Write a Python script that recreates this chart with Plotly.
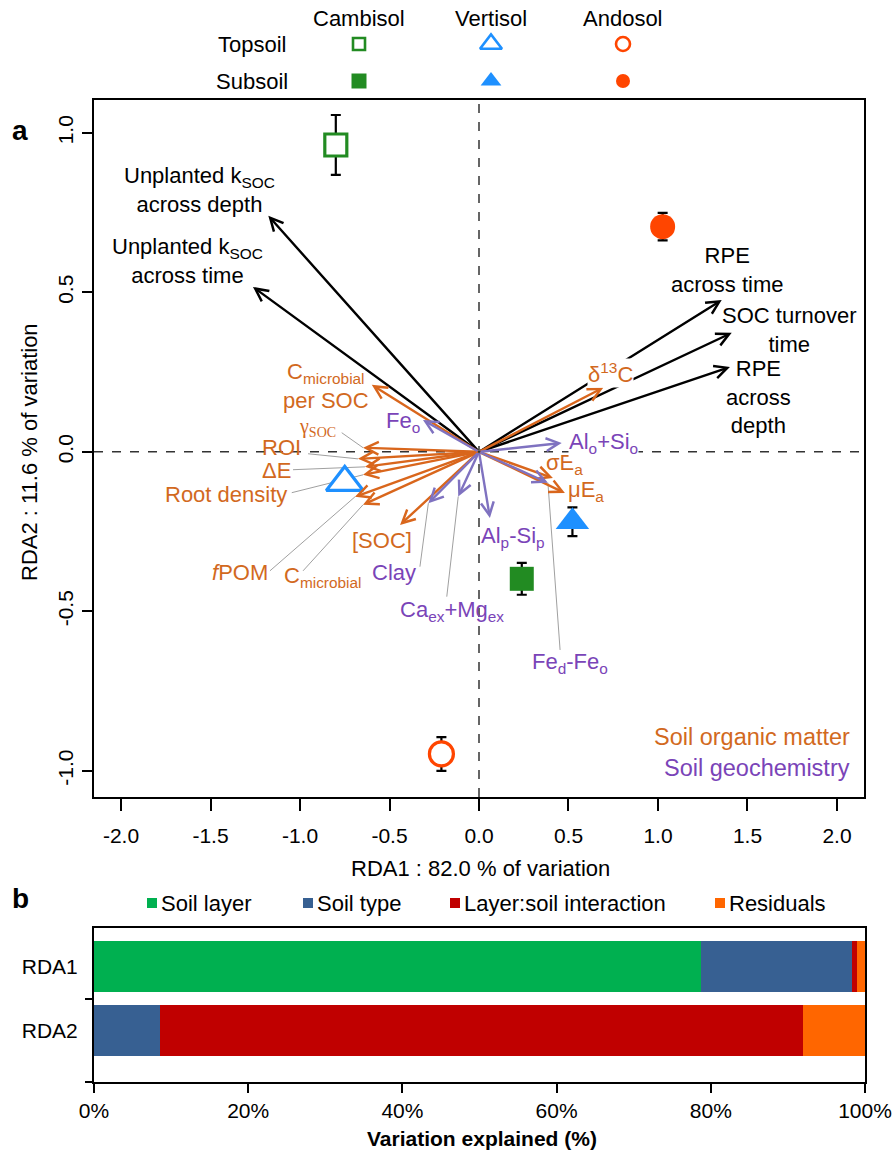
import plotly.graph_objects as go

# ------------------------------------------------------------------
# DATA
# ------------------------------------------------------------------
# site scores (mean +/- se) per soil type
soil_types = ["Cambisol", "Vertisol", "Andosol"]
top_rda1 = [-0.80, -0.75, -0.21]
top_rda2 = [0.962, -0.096, -0.947]
top_err = [0.094, 0.02, 0.053]
sub_rda1 = [0.239, 0.522, 1.026]
sub_rda2 = [-0.398, -0.219, 0.706]
sub_err = [0.05, 0.045, 0.043]

# response variables (black arrows)
resp_names = ["Unplanted k<sub>SOC</sub><br>across depth",
              "Unplanted k<sub>SOC</sub><br>across time",
              "RPE<br>across time",
              "SOC turnover<br>time",
              "RPE<br>across<br>depth"]
resp_rda1 = [-1.177, -1.263, 1.356, 1.412, 1.402]
resp_rda2 = [0.740, 0.517, 0.476, 0.373, 0.266]

# soil organic matter variables (orange arrows)
som_names = ["δ<sup>13</sup>C", "σE<sub>a</sub>", "μE<sub>a</sub>",
             "C<sub>microbial</sub><br>per SOC", "γ<sub>SOC</sub>", "ROI", "ΔE",
             "Root density", "<i>f</i>POM", "C<sub>microbial</sub>", "[SOC]"]
som_rda1 = [0.694, 0.413, 0.480, -0.599, -0.648, -0.676, -0.637, -0.648, -0.693, -0.648, -0.441]
som_rda2 = [0.201, -0.082, -0.129, 0.210, 0.013, -0.022, -0.047, -0.072, -0.141, -0.166, -0.229]

# soil geochemistry variables (purple arrows)
geo_names = ["Fe<sub>o</sub>", "Al<sub>o</sub>+Si<sub>o</sub>", "Fe<sub>d</sub>-Fe<sub>o</sub>",
             "Al<sub>p</sub>-Si<sub>p</sub>", "Ca<sub>ex</sub>+Mg<sub>ex</sub>", "Clay"]
geo_rda1 = [-0.313, 0.462, 0.385, 0.061, -0.116, -0.283]
geo_rda2 = [0.100, 0.028, -0.097, -0.207, -0.140, -0.161]

# variation partitioning (panel b)
rda_axes = ["RDA1", "RDA2"]
comp_names = ["Soil layer", "Soil type", "Layer:soil interaction", "Residuals"]
soil_layer = [78.7, 0.0]
soil_type = [19.6, 8.6]
interaction = [0.6, 83.3]
residuals = [1.1, 8.1]

x_ticks_a = [-2.0, -1.5, -1.0, -0.5, 0.0, 0.5, 1.0, 1.5, 2.0]
y_ticks_a = [-1.0, -0.5, 0.0, 0.5, 1.0]
x_ticks_b = [0, 20, 40, 60, 80, 100]

# ------------------------------------------------------------------
# STYLE / LAYOUT
# ------------------------------------------------------------------
W, H = 895, 1151
FONT = "Liberation Sans, Arial, sans-serif"
FS = 22
SOIL_COLORS = ["#228B22", "#1E90FF", "#FF4500"]
ORANGE = "#D9661C"
ORANGE_TXT = "#D2691E"
PURPLE_ARR = "#7F72C0"
PURPLE_TXT = "#7A44B8"
COMP_COLORS = ["#00B050", "#376092", "#C00000", "#FF6600"]

# label positions (data units) and anchors
resp_lab = [(-1.559, 0.821, "center"), (-1.631, 0.599, "center"), (1.385, 0.571, "center"),
            (1.737, 0.382, "center"), (1.559, 0.172, "center")]
som_lab = [(0.732, 0.248, "center"), (0.480, -0.037, "center"), (0.598, -0.124, "center"),
           (-0.855, 0.207, "center"), (-0.905, 0.075, "center"), (-1.101, 0.013, "center"),
           (-1.134, -0.060, "center"), (-1.413, -0.135, "center"), (-1.335, -0.379, "center"),
           (-0.872, -0.392, "center"), (-0.542, -0.279, "center")]
geo_lab = [(-0.425, 0.094, "center"), (0.497, 0.028, "left"), (0.508, -0.661, "center"),
           (0.190, -0.266, "center"), (-0.151, -0.498, "center"), (-0.475, -0.379, "center")]
# leader lines: label-side start point, keyed by (group, index)
leaders = {("som", 4): (-0.767, 0.060), ("som", 5): (-0.955, -0.006), ("som", 6): (-1.039, -0.056),
           ("som", 7): (-1.046, -0.128), ("som", 8): (-1.168, -0.373), ("som", 9): (-0.983, -0.373),
           ("geo", 5): (-0.330, -0.360), ("geo", 4): (-0.180, -0.454), ("geo", 2): (0.453, -0.621)}

def py(px):
    return 1 - px / H

fig = go.Figure()

# ---- arrows ----
def arrow(x, y, color):
    fig.add_annotation(x=x, y=y, ax=0, ay=0, xref="x", yref="y", axref="x", ayref="y",
                       text="", showarrow=True, arrowhead=5, arrowsize=1.05, arrowwidth=2.4,
                       arrowcolor=color, standoff=0, startstandoff=0)

for x, y in zip(resp_rda1, resp_rda2):
    arrow(x, y, "black")
for x, y in zip(som_rda1, som_rda2):
    arrow(x, y, ORANGE)
for x, y in zip(geo_rda1, geo_rda2):
    arrow(x, y, PURPLE_ARR)

# ---- leader lines ----
for (grp, i), (lx, ly) in leaders.items():
    tx, ty = (som_rda1[i], som_rda2[i]) if grp == "som" else (geo_rda1[i], geo_rda2[i])
    fig.add_shape(type="line", x0=lx, y0=ly, x1=tx, y1=ty, xref="x", yref="y",
                  line=dict(color="#A0A0A0", width=1), layer="below")

# ---- dashed zero lines ----
fig.add_shape(type="line", x0=0, x1=0, y0=0, y1=1, xref="x", yref="y domain",
              line=dict(color="#333", width=1.5, dash="dash"), layer="below")
fig.add_shape(type="line", x0=0, x1=1, y0=0, y1=0, xref="x domain", yref="y",
              line=dict(color="#333", width=1.5, dash="dash"), layer="below")

# ---- labels ----
def label(text, pos, color, size=FS, bg=None, family=FONT):
    x, y, anchor = pos
    fig.add_annotation(x=x, y=y, xref="x", yref="y", text=text, showarrow=False,
                       xanchor=anchor, yanchor="middle", align="center",
                       font=dict(family=family, size=size, color=color),
                       bgcolor=bg, borderpad=0)

for n, p in zip(resp_names, resp_lab):
    label(n, p, "black")
for i, (n, p) in enumerate(zip(som_names, som_lab)):
    if i == 4:
        label(n, p, ORANGE_TXT, size=20, family="Liberation Serif, Times New Roman, serif")
    else:
        label(n, p, ORANGE_TXT, bg="white" if i == 0 else None)
for i, (n, p) in enumerate(zip(geo_names, geo_lab)):
    label(n, p, PURPLE_TXT, bg="white" if i == 1 else None)

fig.add_annotation(x=2.084, y=-0.893, xref="x", yref="y", text="Soil organic matter", showarrow=False,
                   xanchor="right", yanchor="middle", font=dict(family=FONT, size=23.5, color=ORANGE_TXT))
fig.add_annotation(x=2.084, y=-0.991, xref="x", yref="y", text="Soil geochemistry", showarrow=False,
                   xanchor="right", yanchor="middle", font=dict(family=FONT, size=23.5, color=PURPLE_TXT))

# ---- site points ----
fig.add_trace(go.Scatter(
    x=top_rda1, y=top_rda2, mode="markers", xaxis="x", yaxis="y", showlegend=False,
    error_y=dict(type="data", array=top_err, color="black", thickness=2.2, width=5),
    marker=dict(symbol=["square", "triangle-up", "circle"], size=[22, 32, 24], color="white", opacity=1,
                line=dict(color=SOIL_COLORS, width=3.2))))
fig.add_trace(go.Scatter(
    x=sub_rda1, y=sub_rda2, mode="markers", xaxis="x", yaxis="y", showlegend=False,
    error_y=dict(type="data", array=sub_err, color="black", thickness=2.2, width=5),
    marker=dict(symbol=["square", "triangle-up", "circle"], size=[24, 29, 25], color=SOIL_COLORS, opacity=1,
                line=dict(width=0))))

# ---- top legend (grid) ----
leg_x = [359, 491, 623]
fig.add_trace(go.Scatter(x=leg_x, y=[44, 44, 44], mode="markers", xaxis="x3", yaxis="y3", showlegend=False,
                         marker=dict(symbol=["square", "triangle-up", "circle"], size=[12, 19, 14], opacity=1,
                                     color="white", line=dict(color=SOIL_COLORS, width=2.6))))
fig.add_trace(go.Scatter(x=leg_x, y=[81, 81, 81], mode="markers", xaxis="x3", yaxis="y3", showlegend=False,
                         marker=dict(symbol=["square", "triangle-up", "circle"], size=[15, 18, 14], opacity=1,
                                     color=SOIL_COLORS, line=dict(width=0))))
for st, lx in zip(soil_types, leg_x):
    fig.add_annotation(x=lx, y=18, xref="x3", yref="y3", text=st, showarrow=False,
                       xanchor="center", yanchor="middle", font=dict(family=FONT, size=FS, color="black"))
for t, ly in zip(["Topsoil", "Subsoil"], [44, 81]):
    fig.add_annotation(x=252, y=ly, xref="x3", yref="y3", text=t, showarrow=False,
                       xanchor="center", yanchor="middle", font=dict(family=FONT, size=FS, color="black"))

# ---- panel b bars ----
for name, vals, col in zip(comp_names, [soil_layer, soil_type, interaction, residuals], COMP_COLORS):
    fig.add_trace(go.Bar(y=[0, 1], x=vals, orientation="h", name=name, xaxis="x2", yaxis="y2",
                         marker=dict(color=col, line=dict(width=0)), width=0.8, showlegend=False))

# panel b legend
leg_b_x = [152, 308, 455, 720]
fig.add_trace(go.Scatter(x=leg_b_x, y=[903] * 4, mode="markers", xaxis="x4", yaxis="y4", showlegend=False,
                         marker=dict(symbol="square", size=10, color=COMP_COLORS, opacity=1)))
for name, lx in zip(comp_names, leg_b_x):
    fig.add_annotation(x=lx + 7, y=903, xref="x4", yref="y4", text=name, showarrow=False,
                       xanchor="left", yanchor="middle", font=dict(family=FONT, size=FS, color="black"))

# ---- axis titles and panel letters ----
def paper_text(x, y, text, size, angle=0):
    fig.add_annotation(x=x / W, y=py(y), xref="paper", yref="paper", showarrow=False, textangle=angle,
                       xanchor="center", yanchor="middle", text=text,
                       font=dict(family=FONT, size=size, color="black"))

paper_text(480, 868, "RDA1 : 82.0 % of variation", 22)
paper_text(30, 452, "RDA2 : 11.6 % of variation", 22, angle=-90)
paper_text(482, 1138, "<b>Variation explained (%)</b>", 21)
paper_text(20, 130, "<b>a</b>", 28)
paper_text(20, 898, "<b>b</b>", 28)

def fmt(v):
    return f"{v:.1f}"

common = dict(showgrid=False, zeroline=False, automargin=False, showline=True, linewidth=2,
              linecolor="black", mirror=True, tickcolor="black", tickwidth=1.5, tickfont=dict(size=21))

fig.update_layout(
    template="none",
    width=W, height=H, margin=dict(l=0, r=0, t=0, b=0, pad=0, autoexpand=False),
    paper_bgcolor="white", plot_bgcolor="white", barmode="stack", showlegend=False,
    font=dict(family=FONT, size=FS, color="black"),
    xaxis=dict(domain=[94 / W, 864 / W], range=[-2.151, 2.151], anchor="y",
               tickvals=x_ticks_a, ticktext=[fmt(v) for v in x_ticks_a],
               ticks="outside", ticklen=12, ticklabelstandoff=7, **common),
    yaxis=dict(domain=[py(797), py(100)], range=[-1.082, 1.103], anchor="x",
               tickvals=y_ticks_a, ticktext=[fmt(v) for v in y_ticks_a], tickangle=-90,
               ticks="outside", ticklen=10, ticklabelstandoff=1, **common),
    xaxis2=dict(domain=[94 / W, 865 / W], range=[0, 100], anchor="y2",
                tickvals=x_ticks_b, ticktext=[f"{v}%" for v in x_ticks_b],
                ticks="outside", ticklen=9, ticklabelstandoff=0, **common),
    yaxis2=dict(domain=[py(1082), py(928)], range=[1.8, -0.6], anchor="x2",
                tickvals=[0, 1], ticktext=rda_axes, ticks="", ticklabelstandoff=10,
                minor=dict(tickvals=[0.5, 1.8], ticks="outside", ticklen=7, tickwidth=1.5, tickcolor="black"),
                **common),
    xaxis3=dict(domain=[0, 1], range=[0, W], visible=False, anchor="y3", fixedrange=True, automargin=False),
    yaxis3=dict(domain=[py(100), 1], range=[100, 0], visible=False, anchor="x3", fixedrange=True, automargin=False),
    xaxis4=dict(domain=[0, 1], range=[0, W], visible=False, anchor="y4", fixedrange=True, automargin=False),
    yaxis4=dict(domain=[py(925), py(880)], range=[925, 880], visible=False, anchor="x4", fixedrange=True,
                automargin=False),
)

fig.write_html("out.html")
